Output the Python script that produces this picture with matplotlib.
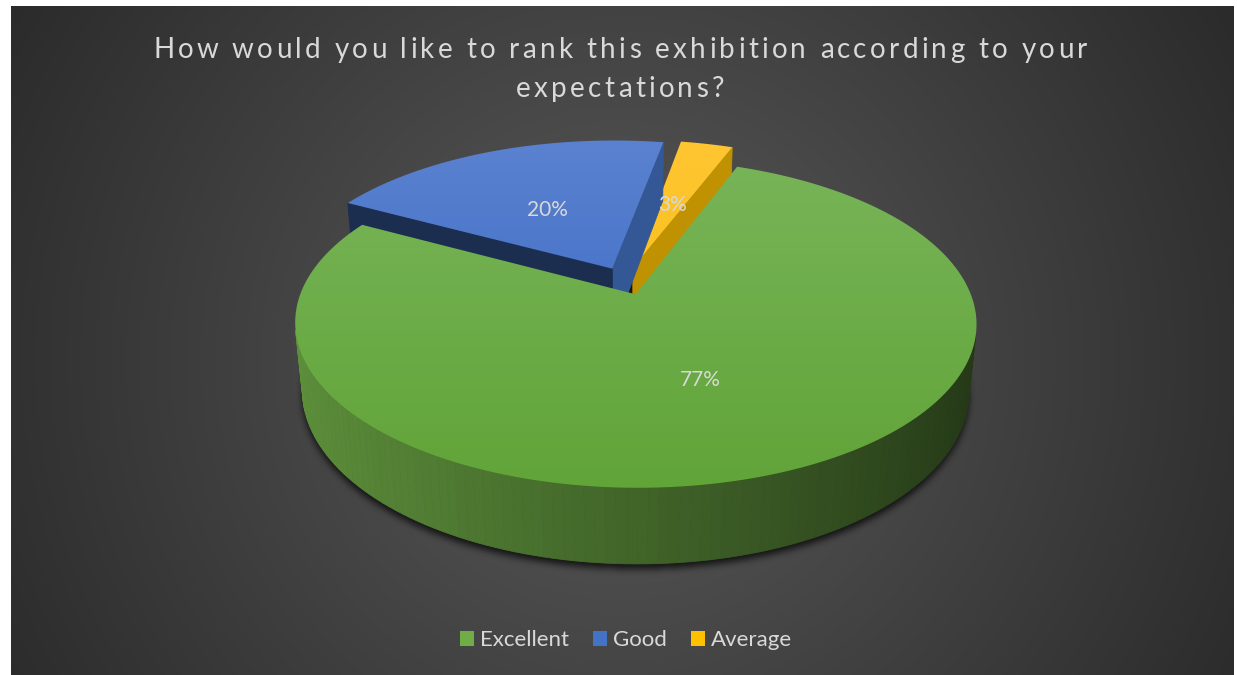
import numpy as np
import matplotlib
matplotlib.use('Agg')
import matplotlib.pyplot as plt
from matplotlib.patches import Polygon, Patch
from matplotlib.colors import to_rgb
from matplotlib.path import Path
from matplotlib.font_manager import FontProperties

# ---------------- data ----------------
categories = ['Excellent', 'Good', 'Average']
values = [77, 20, 3]
slice_colors = ['#70AD47', '#4472C4', '#FFC000']
title_lines = ['How would you like to rank this exhibition according to your',
               'expectations?']

# ---------------- layout / style ----------------
W, H = 1237, 675
FONT = 'Lato'
TXT = '#d9d9d9'
top_light = ['#79b55a', '#5a82d0', '#ffc633']
top_dark = ['#61a438', '#3462bf', '#f3b900']
first_angle = 21.0          # angle of first slice (deg, clockwise from 12 o'clock)
theta = np.radians(27.9)    # elevation
D = 5.05                    # camera distance (radius units)
F = 1668.0                  # focal scale (px)
Cx, Cy = 625.0, 281.0       # projected pie centre (px)
depth_h = 0.232             # pie thickness
explode = 0.09
label_r = 0.5
label_dy = 4

fig = plt.figure(figsize=(W / 100, H / 100), dpi=100)
fig.patch.set_facecolor('white')
ax = fig.add_axes([0, 0, 1, 1])

# background: radial gradient in chart area
bx0, bx1, by0, by1 = 11, 1234, 6, 675
gy, gx = np.mgrid[by0:by1:2, bx0:bx1:2]
rr = np.hypot(gx - 620, gy - 360) / 750.0
v = (40 + 50 * np.clip(1 - rr, 0, 1)) / 255.0
bg = np.dstack([v, v, v])
ax.imshow(bg, extent=[bx0, bx1, by1, by0], origin='upper', zorder=0,
          interpolation='bilinear', aspect='auto')

ax.set_xlim(0, W)
ax.set_ylim(H, 0)
ax.axis('off')

cam = np.array([0.0, -D * np.cos(theta), D * np.sin(theta)])
view = np.array([0.0, np.cos(theta), -np.sin(theta)])


def proj(x, y, z):
    depth = y * np.cos(theta) - z * np.sin(theta) + D
    up = y * np.sin(theta) + z * np.cos(theta)
    return Cx + F * x / depth, Cy - F * up / depth


def shade(color, f):
    c = np.array(to_rgb(color))
    return tuple(np.clip(c * f, 0, 1))


def visible(P, n):
    return np.dot(P - cam, n) < 0


# slice angles
total = float(sum(values))
starts = []
a = first_angle
for val in values:
    starts.append((a, a + 360.0 * val / total))
    a += 360.0 * val / total

slices = []
for i, (a0, a1) in enumerate(starts):
    mid = np.radians((a0 + a1) / 2)
    ox, oy = explode * np.sin(mid), explode * np.cos(mid)
    n = max(int(abs(a1 - a0) / 1.5), 4)
    phis = np.radians(np.linspace(a0, a1, n))
    slices.append(dict(i=i, a0=np.radians(a0), a1=np.radians(a1), mid=mid,
                       ox=ox, oy=oy, phis=phis,
                       depth=oy + 0.5 * np.cos(mid)))

# ---------------- shadow ----------------
g = slices[0]
px = g['ox'] + np.sin(np.radians(np.linspace(0, 360, 200)))
py = g['oy'] + np.cos(np.radians(np.linspace(0, 360, 200)))
sxp, syp = proj(px, py, -depth_h)
shadow_path = Path(np.column_stack([sxp, syp + 5]))
yy, xx = np.mgrid[0:H, 0:W]
mask = shadow_path.contains_points(np.column_stack([xx.ravel() + 0.5, yy.ravel() + 0.5])).reshape(H, W).astype(float)
kern = np.ones(7) / 7.0
for _ in range(3):
    mask = np.apply_along_axis(lambda m: np.convolve(m, kern, mode='same'), 1, mask)
    mask = np.apply_along_axis(lambda m: np.convolve(m, kern, mode='same'), 0, mask)
sh = np.zeros((H, W, 4))
sh[..., 3] = mask * 0.75
ax.imshow(sh, extent=[0, W, H, 0], origin='upper', zorder=1, aspect='auto')
ax.set_xlim(0, W)
ax.set_ylim(H, 0)

# ---------------- slices ----------------
z = 2
order = sorted(slices, key=lambda s: -s['depth'])
for s in order:
    col = slice_colors[s['i']]
    ox, oy = s['ox'], s['oy']
    phis = s['phis']
    faces = []
    # rim strips
    for j in range(len(phis) - 1):
        p0, p1 = phis[j], phis[j + 1]
        pm = 0.5 * (p0 + p1)
        nrm = np.array([np.sin(pm), np.cos(pm), 0.0])
        P = np.array([ox + np.sin(pm), oy + np.cos(pm), -depth_h / 2])
        if visible(P, nrm):
            xs = ox + np.array([np.sin(p0), np.sin(p1), np.sin(p1), np.sin(p0)])
            ys = oy + np.array([np.cos(p0), np.cos(p1), np.cos(p1), np.cos(p0)])
            zs = np.array([0, 0, -depth_h, -depth_h])
            X, Y = proj(xs, ys, zs)
            f = 0.58 - 0.26 * np.sin(pm)
            faces.append((np.dot(P - cam, view), np.column_stack([X, Y]), shade(col, f)))
    # cut faces
    for ang, sgn in ((s['a0'], -1), (s['a1'], 1)):
        pn = ang + sgn * np.pi / 2
        nrm = np.array([np.sin(pn), np.cos(pn), 0.0])
        P = np.array([ox + 0.5 * np.sin(ang), oy + 0.5 * np.cos(ang), -depth_h / 2])
        if visible(P, nrm):
            xs = np.array([ox, ox + np.sin(ang), ox + np.sin(ang), ox])
            ys = np.array([oy, oy + np.cos(ang), oy + np.cos(ang), oy])
            zs = np.array([0, 0, -depth_h, -depth_h])
            X, Y = proj(xs, ys, zs)
            f = 0.52 + 0.25 * np.sin(pn)
            faces.append((np.dot(P - cam, view), np.column_stack([X, Y]), shade(col, f)))
    faces.sort(key=lambda t: -t[0])
    for _, pts, fc in faces:
        ax.add_patch(Polygon(pts, closed=True, facecolor=fc, edgecolor=fc,
                             linewidth=0.6, zorder=z))
        z += 1
    # top face with vertical gradient
    xs = np.concatenate([[ox], ox + np.sin(phis)])
    ys = np.concatenate([[oy], oy + np.cos(phis)])
    X, Y = proj(xs, ys, np.zeros_like(xs))
    poly = Polygon(np.column_stack([X, Y]), closed=True, facecolor='none',
                   edgecolor='none', transform=ax.transData)
    ax.add_patch(poly)
    ymin, ymax = 140.0, 490.0
    tt = np.linspace(0, 1, 256)[:, None, None]
    c_l = np.array(to_rgb(top_light[s['i']]))
    c_d = np.array(to_rgb(top_dark[s['i']]))
    grad = c_l[None, None, :] * (1 - tt) + c_d[None, None, :] * tt
    grad = np.repeat(grad, 2, axis=1)
    im = ax.imshow(grad, extent=[X.min() - 2, X.max() + 2, ymax, ymin],
                   origin='upper', zorder=z, aspect='auto', interpolation='bilinear')
    im.set_clip_path(poly)
    z += 1
    # data label position along bisector
    lx, ly = proj(ox + label_r * np.sin(s['mid']), oy + label_r * np.cos(s['mid']), 0.0)
    s['label_pos'] = (lx, ly + label_dy)

ax.set_xlim(0, W)
ax.set_ylim(H, 0)

for s in slices:
    lx, ly = s['label_pos']
    pct = '{:d}%'.format(int(round(100 * values[s['i']] / total)))
    ax.text(lx, ly, pct, ha='center', va='center', fontsize=15,
            family=FONT, color=TXT, zorder=5000)

# ---------------- title with letter spacing ----------------
renderer = fig.canvas.get_renderer()
tfp = FontProperties(family=FONT, size=20)


def tw(t):
    if not t:
        return 0.0
    w1, _, _ = renderer.get_text_width_height_descent(t + '|', tfp, ismath=False)
    w0, _, _ = renderer.get_text_width_height_descent('|', tfp, ismath=False)
    return w1 - w0


line1 = title_lines[0]
spacing = (934.0 - tw(line1)) / (len(line1) - 1)
for line, base_y in zip(title_lines, (58, 97)):
    total_w = tw(line) + spacing * (len(line) - 1)
    xs0 = 620 - total_w / 2
    for i, ch in enumerate(line):
        if ch == ' ':
            continue
        ax.text(xs0 + tw(line[:i]) + spacing * i, base_y, ch, ha='left',
                va='baseline', fontproperties=tfp, color=TXT, zorder=5000)

# ---------------- legend ----------------
handles = [Patch(facecolor=c, edgecolor='none', label=l)
           for c, l in zip(slice_colors, categories)]
leg = ax.legend(handles=handles, loc='center', bbox_to_anchor=(626 / W, 1 - 640 / H),
                ncol=3, frameon=False, handlelength=0.64, handleheight=0.64,
                handletextpad=0.25, columnspacing=1.1,
                prop=FontProperties(family=FONT, size=16))
leg.set_zorder(5000)
for t in leg.get_texts():
    t.set_color(TXT)

fig.savefig('out.png', dpi=100, facecolor='white')
